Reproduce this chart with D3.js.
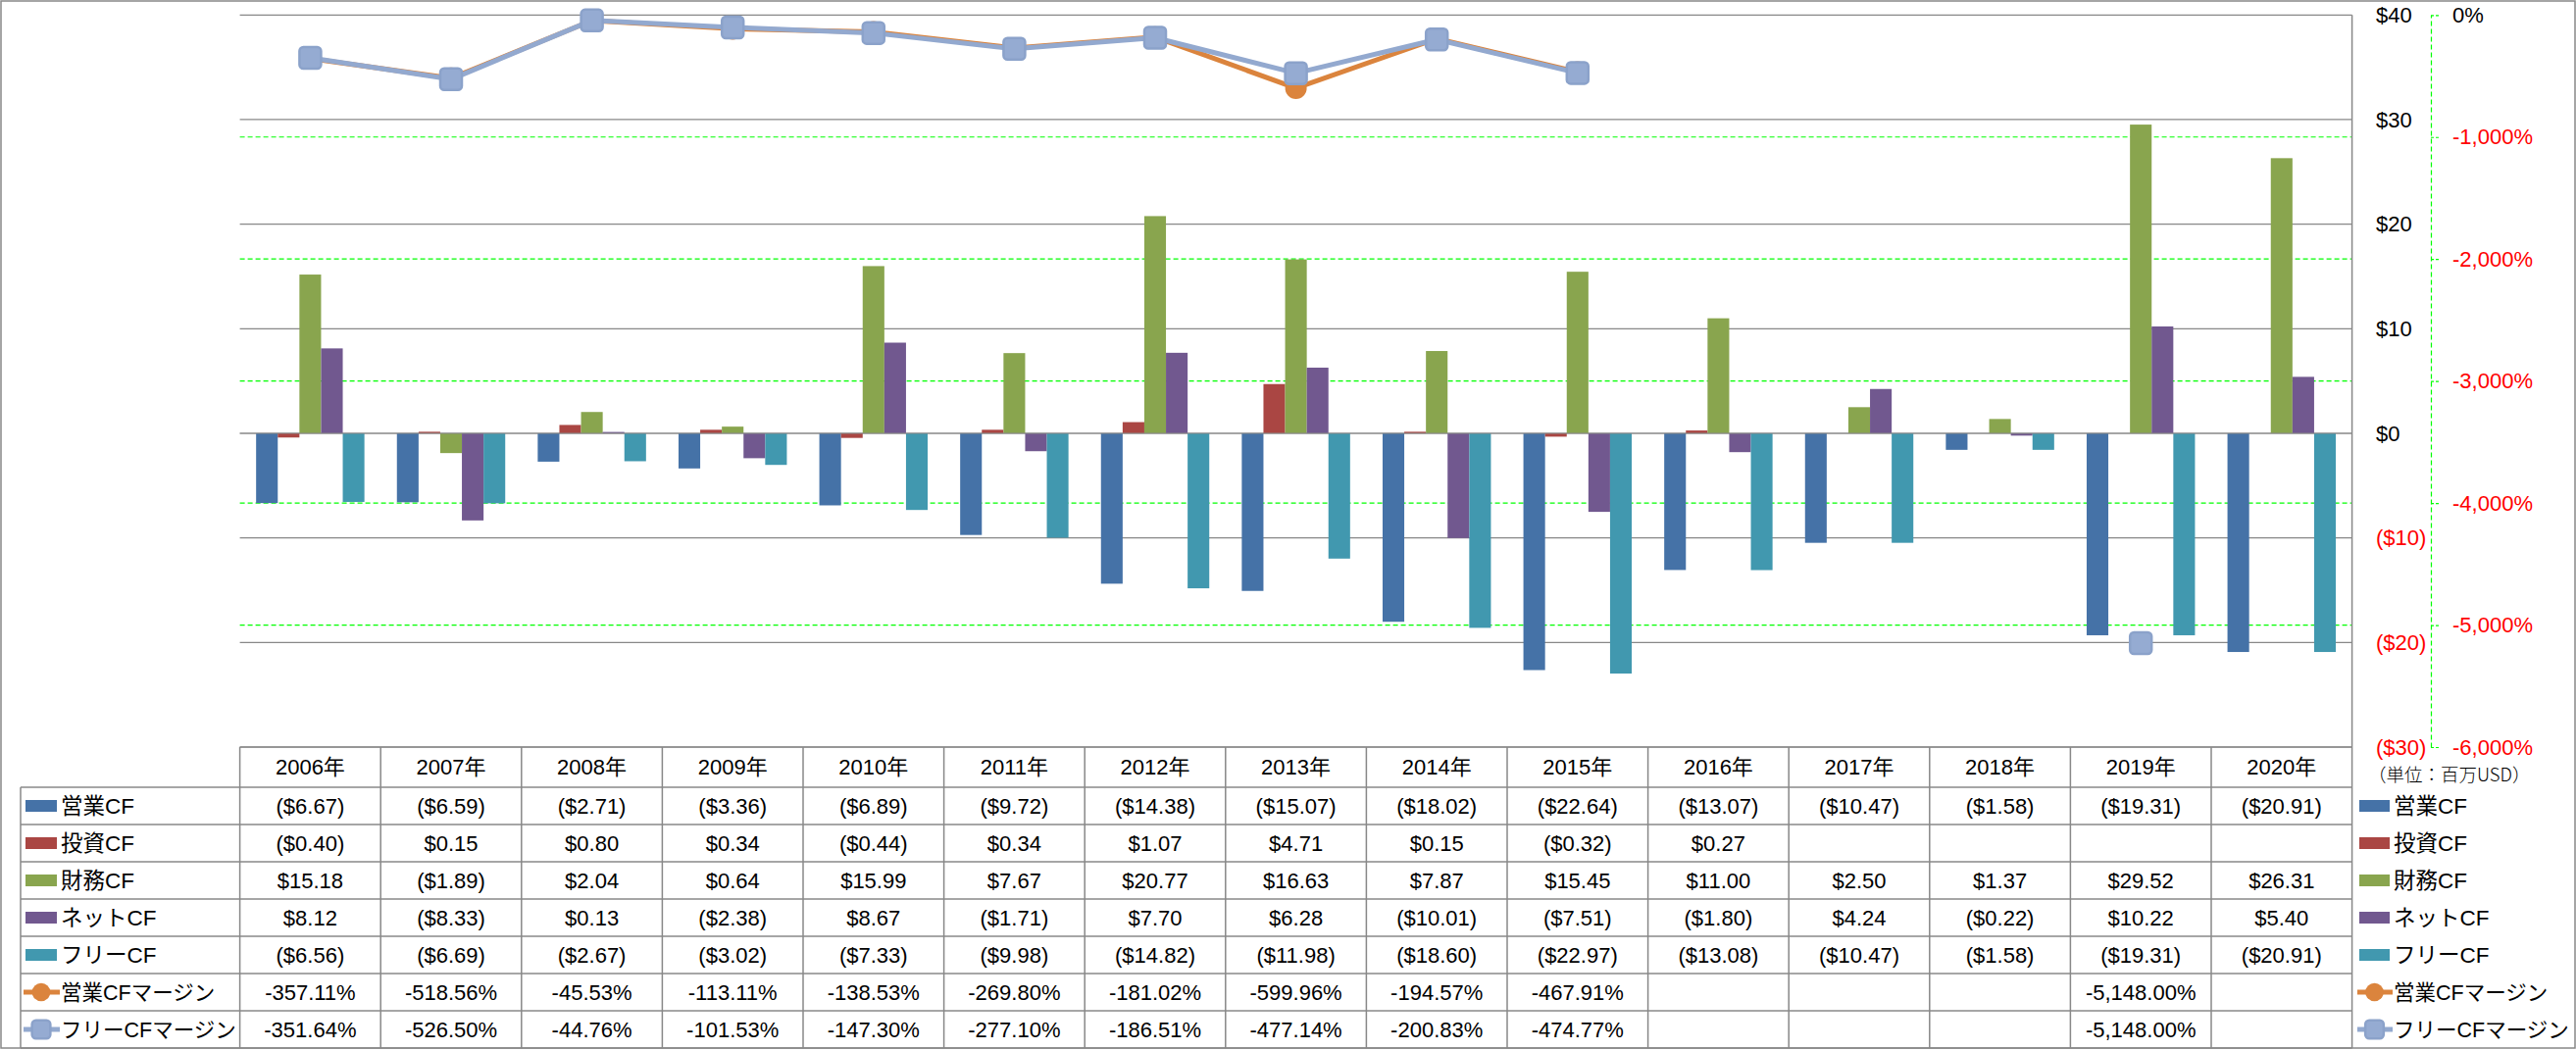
<!DOCTYPE html>
<html><head><meta charset="utf-8">
<script src="https://cdn.jsdelivr.net/npm/d3@7"></script>
<style>
html,body{margin:0;padding:0;background:#fff;}
svg text{font-family:"Liberation Sans","Noto Sans CJK JP",sans-serif;}
</style></head>
<body><svg id="c" width="2627" height="1071"></svg>
<script>
const years = ["2006年","2007年","2008年","2009年","2010年","2011年","2012年","2013年","2014年","2015年","2016年","2017年","2018年","2019年","2020年"];
const barSeriesNames = ["営業CF","投資CF","財務CF","ネットCF","フリーCF"];
const lineSeriesNames = ["営業CFマージン","フリーCFマージン"];
const operatingCF = [-6.67,-6.59,-2.71,-3.36,-6.89,-9.72,-14.38,-15.07,-18.02,-22.64,-13.07,-10.47,-1.58,-19.31,-20.91];
const investingCF = [-0.40,0.15,0.80,0.34,-0.44,0.34,1.07,4.71,0.15,-0.32,0.27,null,null,null,null];
const financingCF = [15.18,-1.89,2.04,0.64,15.99,7.67,20.77,16.63,7.87,15.45,11.00,2.50,1.37,29.52,26.31];
const netCF = [8.12,-8.33,0.13,-2.38,8.67,-1.71,7.70,6.28,-10.01,-7.51,-1.80,4.24,-0.22,10.22,5.40];
const freeCF = [-6.56,-6.69,-2.67,-3.02,-7.33,-9.98,-14.82,-11.98,-18.60,-22.97,-13.08,-10.47,-1.58,-19.31,-20.91];
const opMargin = [-357.11,-518.56,-45.53,-113.11,-138.53,-269.80,-181.02,-599.96,-194.57,-467.91,null,null,null,-5148.00,null];
const freeMargin = [-351.64,-526.50,-44.76,-101.53,-147.30,-277.10,-186.51,-477.14,-200.83,-474.77,null,null,null,-5148.00,null];
const leftTicks = [-30,-20,-10,0,10,20,30,40];
const rightTicks = [-6000,-5000,-4000,-3000,-2000,-1000,0];
const unitLabel = "（単位：百万USD）";

const barColors = ["#4572A7","#AA4643","#89A54E","#71588F","#4198AF"];
const lineColors = ["#DB843D","#93A9CF"];
const barData = [operatingCF,investingCF,financingCF,netCF,freeCF];
const lineData = [opMargin,freeMargin];

const loc = d3.formatLocale({decimal:".",thousands:",",grouping:[3],currency:["$",""],minus:"-"});
const fmtCur = loc.format("($,.2f");
const fmtPct = v => loc.format(",.2f")(v) + "%";
const fmtAxL = v => v < 0 ? "($" + (-v) + ")" : "$" + v;
const fmtAxR = v => loc.format(",")(v) + "%";

const svg = d3.select("#c");
const plotL = 244.6, plotR = 2398.6, plotT = 15.3, plotB = 762;
const tableL = 21, headerB = 803, rowH = 38;
const gray = "#888888";

const x = d3.scaleBand().domain(years).range([plotL, plotR]).padding(0);
const xs = d3.scaleBand().domain(barSeriesNames).range([0, x.bandwidth()]).paddingInner(0).paddingOuter(0.75);
const y = d3.scaleLinear().domain([-30, 40]).range([plotB, plotT]);
const y2 = d3.scaleLinear().domain([-6000, 0]).range([plotB, plotT]);

// outer border
svg.append("rect").attr("x",1).attr("y",1).attr("width",2625).attr("height",1068)
  .attr("fill","none").attr("stroke",gray).attr("stroke-width",1.5);

// gray gridlines
svg.append("g").selectAll("line").data(leftTicks).join("line")
  .attr("x1",plotL).attr("x2",plotR).attr("y1",d=>y(d)).attr("y2",d=>y(d))
  .attr("stroke",gray).attr("stroke-width",1.2);
// green gridlines
svg.append("g").selectAll("line").data(rightTicks.filter(d=>d>-6000 && d<0)).join("line")
  .attr("x1",plotL).attr("x2",plotR).attr("y1",d=>y2(d)).attr("y2",d=>y2(d))
  .attr("stroke","#00FF00").attr("stroke-width",1.2).attr("stroke-dasharray","5,3");

// bars
barData.forEach((arr, si) => {
  svg.append("g").selectAll("rect").data(arr.map((v,i)=>({v,i})).filter(d=>d.v!=null)).join("rect")
    .attr("x", d => x(years[d.i]) + xs(barSeriesNames[si]))
    .attr("width", xs.bandwidth())
    .attr("y", d => Math.min(y(0), y(d.v)))
    .attr("height", d => Math.abs(y(d.v) - y(0)))
    .attr("fill", barColors[si]);
});
// zero line on top
svg.append("line").attr("x1",plotL).attr("x2",plotR).attr("y1",y(0)).attr("y2",y(0))
  .attr("stroke",gray).attr("stroke-width",1.2);

// lines
function drawMarker(g, si, cx, cy, scale) {
  const r = 11 * (scale||1);
  if (si === 0) {
    g.append("circle").attr("cx",cx).attr("cy",cy).attr("r",r).attr("fill",lineColors[0]);
  } else {
    g.append("rect").attr("x",cx-r).attr("y",cy-r).attr("width",2*r).attr("height",2*r)
      .attr("rx",4).attr("fill","#95ABD2").attr("stroke","#8BA2CA").attr("stroke-width",2.5);
  }
}
lineData.forEach((arr, si) => {
  const g = svg.append("g");
  const pts = arr.map((v,i)=>({v,i}));
  const line = d3.line().defined(d=>d.v!=null)
    .x(d => x(years[d.i]) + x.bandwidth()/2).y(d => y2(d.v));
  g.append("path").attr("d", line(pts)).attr("fill","none")
    .attr("stroke", lineColors[si]).attr("stroke-width",5).attr("stroke-linejoin","round");
  pts.filter(d=>d.v!=null).forEach(d => drawMarker(g, si, x(years[d.i]) + x.bandwidth()/2, y2(d.v)));
});

// right plot border line
svg.append("line").attr("x1",plotR).attr("x2",plotR).attr("y1",plotT).attr("y2",1069)
  .attr("stroke",gray).attr("stroke-width",1.5);

// primary axis labels
const axL = d3.axisRight(y).tickValues(leftTicks).tickSize(0).tickPadding(0).tickFormat(fmtAxL);
const gL = svg.append("g").attr("transform","translate(2423,0)").call(axL);
gL.select(".domain").remove();
gL.selectAll("text").attr("font-size",22).attr("font-family","Liberation Sans, Noto Sans CJK JP")
  .attr("fill", d => d < 0 ? "#FF0000" : "#000");

// secondary axis
const axR = d3.axisRight(y2).tickValues(rightTicks).tickSize(8).tickSizeOuter(0).tickPadding(14).tickFormat(fmtAxR);
const gR = svg.append("g").attr("transform","translate(2479,0)").call(axR);
gR.select(".domain").attr("stroke","#00FF00").attr("stroke-width",1.2).attr("stroke-dasharray","5,3");
gR.selectAll(".tick line").attr("stroke","#00FF00").attr("stroke-width",1.2).attr("stroke-dasharray","3,2");
gR.selectAll("text").attr("font-size",22).attr("font-family","Liberation Sans, Noto Sans CJK JP")
  .attr("fill", d => d < 0 ? "#FF0000" : "#000");

// unit label
svg.append("text").attr("x",2415).attr("y",791).attr("dy","0.35em")
  .attr("font-size",18.5).attr("font-weight",300).attr("fill","#000")
  .style("font-family","'Noto Sans CJK JP'").text(unitLabel);

// ===== data table =====
const tg = svg.append("g");
const nRows = 7;
tg.append("line").attr("x1",plotL).attr("x2",plotR).attr("y1",plotB).attr("y2",plotB).attr("stroke",gray).attr("stroke-width",1.5);
for (let r = 0; r <= nRows; r++) {
  const yy = headerB + r*rowH;
  tg.append("line").attr("x1",tableL).attr("x2",plotR).attr("y1",yy).attr("y2",yy).attr("stroke",gray).attr("stroke-width",1.5);
}
tg.append("line").attr("x1",tableL).attr("x2",tableL).attr("y1",headerB).attr("y2",headerB+nRows*rowH).attr("stroke",gray).attr("stroke-width",1.5);
years.forEach(yr => {
  tg.append("line").attr("x1",x(yr)).attr("x2",x(yr)).attr("y1",plotB).attr("y2",headerB+nRows*rowH).attr("stroke",gray).attr("stroke-width",1.5);
});
// header
tg.selectAll("text.h").data(years).join("text").attr("class","h")
  .attr("x", d => x(d) + x.bandwidth()/2).attr("y", (plotB+headerB)/2).attr("dy","0.35em")
  .attr("text-anchor","middle").attr("font-size",22).attr("fill","#000").text(d=>d);

const allRows = barData.concat(lineData);
const allNames = barSeriesNames.concat(lineSeriesNames);
allRows.forEach((arr, r) => {
  const cy = headerB + r*rowH + rowH/2;
  const fmt = r < 5 ? fmtCur : fmtPct;
  tg.append("g").selectAll("text").data(arr.map((v,i)=>({v,i})).filter(d=>d.v!=null)).join("text")
    .attr("x", d => x(years[d.i]) + x.bandwidth()/2).attr("y", cy).attr("dy","0.35em")
    .attr("text-anchor","middle").attr("font-size",22).attr("fill","#000").text(d => fmt(d.v));
});

// legend keys (table left + right legend)
function legendAt(kx0, kx1, tx) {
  allNames.forEach((name, r) => {
    const cy = headerB + r*rowH + rowH/2;
    if (r < 5) {
      svg.append("rect").attr("x",kx0).attr("y",cy-6).attr("width",kx1-kx0).attr("height",12).attr("fill",barColors[r]);
    } else {
      const si = r-5;
      const g = svg.append("g");
      g.append("line").attr("x1",kx0-2).attr("x2",kx1+3).attr("y1",cy).attr("y2",cy)
        .attr("stroke",lineColors[si]).attr("stroke-width",5);
      drawMarker(g, si, (kx0+kx1)/2, cy, 0.85);
    }
    svg.append("text").attr("x",tx).attr("y",cy).attr("dy","0.35em").attr("font-size", r < 5 ? 22.5 : 21.5)
      .attr("fill","#000").text(name);
  });
}
legendAt(26, 58, 62);
legendAt(2406, 2437, 2441);
</script></body></html>
